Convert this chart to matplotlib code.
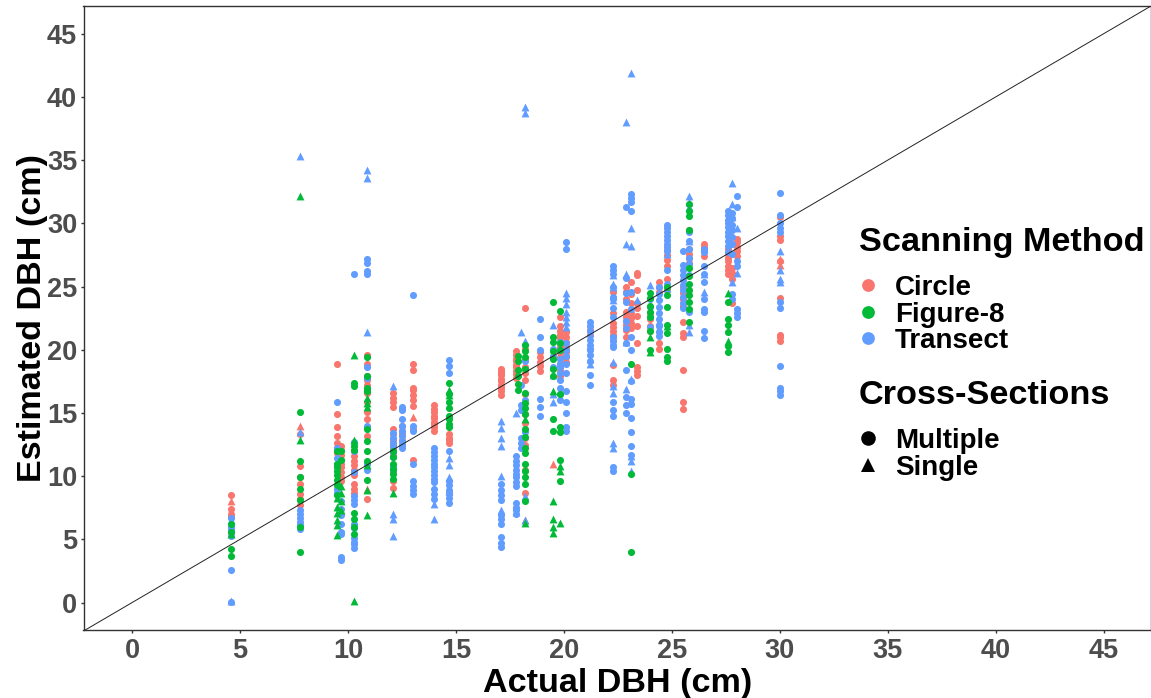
import matplotlib
matplotlib.use("Agg")
import matplotlib.pyplot as plt
from matplotlib.lines import Line2D

plt.rcParams['font.family'] = ['Liberation Sans', 'DejaVu Sans']
plt.rcParams['font.weight'] = 'bold'

# --------------------- Data -----------------------------------------------
# each dict: actual DBH -> estimated DBH values

circle_multi = {
    4.6: [8.5, 7.4, 7.0, 6.8],
    7.8: [13.3, 10.8, 9.9, 9.4, 8.6, 8.2, 7.7],
    9.5: [18.9, 14.95, 13.9, 13.2, 12.6, 12.2, 11.8],
    9.7: [12.4, 12.1, 11.7, 11.3, 11.0, 10.7, 10.3, 9.9, 9.6],
    10.3: [12.0, 11.6, 11.2, 10.9, 10.5, 10.1, 9.4, 9.0, 8.7],
    10.9: [19.6, 18.85, 17.9, 17.6, 17.2, 16.9, 16.6, 15.9, 15.1, 14.5, 13.9, 13.2, 8.2],
    12.1: [16.6, 16.2, 15.9, 15.5, 13.7, 13.3, 12.9, 12.5, 12.1, 11.7, 10.9, 10.3, 9.6, 9.1],
    12.5: [14.0, 13.6, 13.3, 12.9, 12.5],
    13.0: [18.85, 18.4, 17.0, 16.8, 16.4, 16.0, 15.55, 13.7, 11.3],
    14.0: [15.6, 15.3, 15.1, 14.8, 14.6, 14.3, 14.1, 13.9, 13.6],
    14.7: [13.3, 13.0, 12.9, 12.6],
    17.1: [18.5, 18.3, 18.2, 18.0, 17.7, 17.5, 17.2, 17.0, 16.7, 16.4],
    17.8: [19.9, 19.6, 19.3, 19.1, 18.8, 18.6, 18.3, 18.1, 17.8],
    18.2: [23.3, 20.1, 19.3, 18.6, 18.2, 17.6, 16.5, 14.9, 14.2, 13.0, 12.5, 10.5, 8.7],
    18.9: [19.8, 19.4, 19.0, 18.7, 18.3],
    19.8: [22.6, 21.9, 21.5, 21.2, 20.9, 20.5, 20.2, 19.8, 19.4, 18.9, 18.4, 17.9],
    20.1: [21.4, 21.0, 20.6, 20.2, 19.8, 19.4, 19.0],
    21.2: [21.6, 21.2],
    22.3: [24.6, 22.9, 22.1, 21.8, 21.5, 21.2, 20.8, 18.8, 17.6, 17.2],
    22.9: [25.0, 24.6, 24.0, 23.0, 22.6, 22.3, 22.0, 21.6, 21.0],
    23.1: [25.4, 24.4, 23.7, 22.9, 22.5, 22.1, 21.7],
    23.4: [26.1, 25.9, 24.7, 23.7, 23.3, 22.7, 21.9, 20.5, 18.6, 18.3, 18.0],
    24.0: [22.9, 22.4, 21.9, 21.5],
    24.4: [25.4, 25.0, 24.6, 20.5, 20.1],
    24.8: [27.9, 27.5, 27.1, 26.6, 25.6, 24.7],
    25.5: [25.0, 24.5, 24.0, 23.5, 22.2, 21.3, 21.0, 18.4, 15.9, 15.3],
    25.8: [29.5, 28.0, 27.6, 27.3, 26.9],
    26.5: [28.4, 28.1, 27.8, 27.4],
    27.6: [28.0, 27.6, 27.3, 27.0, 26.6, 26.3, 26.0],
    27.8: [26.5, 26.1, 25.6, 23.7],
    28.0: [28.8, 28.5, 28.1, 27.8, 27.4],
    30.0: [30.5, 29.0, 28.7, 27.0, 24.1, 21.2, 21.0, 20.7],
}
circle_single = {
    4.6: [8.0],
    7.8: [13.95],
    10.9: [9.0],
    13.0: [14.7],
    14.7: [9.0],
    18.2: [6.5],
    19.5: [11.0],
    30.0: [27.2, 26.7],
}
figure8_multi = {
    4.6: [6.2, 5.6, 4.2, 3.7],
    7.8: [15.07, 11.2, 9.9, 9.0, 8.1, 6.0, 4.0],
    9.5: [12.0, 11.0, 10.7, 10.4, 10.1, 9.7, 9.3, 8.5],
    9.7: [12.0, 11.3],
    10.3: [17.35, 17.1, 12.4, 12.1, 7.1, 6.6, 6.0, 5.4],
    10.9: [19.4, 17.9, 17.0, 16.7, 13.7, 12.8, 12.0, 11.2, 9.7],
    12.1: [12.0, 11.5, 11.0, 10.6, 10.2, 9.8],
    14.7: [17.4, 16.5, 15.9, 15.4, 14.8, 14.5, 14.1, 13.9],
    17.9: [19.5, 19.1, 18.4, 17.9, 17.3, 16.8],
    18.2: [20.4, 19.9, 19.4, 18.5, 16.6, 15.8, 15.4, 14.9, 13.7, 13.1, 12.2, 11.8, 11.0, 10.4, 9.9, 9.4, 8.0],
    19.5: [23.8, 21.0, 20.6, 19.9, 19.3, 18.5, 17.9, 14.5, 13.6],
    19.8: [23.1, 20.5, 20.0, 16.5, 13.9, 13.5, 11.3, 9.6],
    23.1: [18.9, 10.2, 4.0],
    24.0: [24.5, 24.1, 23.5, 23.0, 22.6, 21.5, 20.0],
    24.8: [25.0, 24.3, 23.4, 22.0, 21.3, 20.1, 19.4, 19.1],
    25.8: [31.5, 31.0, 30.6, 29.5, 26.5, 25.8, 25.2, 24.7, 24.3, 23.8, 23.2, 22.2],
    27.6: [23.8, 22.4, 22.0, 21.4, 20.3, 19.8],
}
figure8_single = {
    4.6: [5.4],
    7.8: [32.2, 12.9],
    9.5: [8.3, 7.6, 7.1, 6.5, 6.1, 5.35],
    9.7: [9.2, 8.7, 8.0, 7.3],
    10.3: [19.55, 12.85, 0.1],
    10.9: [16.9, 16.2, 15.8, 15.5, 10.9, 8.9, 6.9],
    12.1: [8.7],
    14.7: [16.8, 16.4],
    18.2: [14.5, 6.3],
    19.5: [16.7, 8.0, 6.6, 6.0, 5.5],
    19.8: [10.8, 10.4, 6.3],
    24.0: [21.0, 19.8],
    24.8: [21.9],
    27.6: [24.5, 20.7],
}
transect_multi = {
    4.6: [6.7, 6.0, 5.8, 5.6, 5.3, 2.6, 0.05],
    7.8: [7.3, 7.0, 6.7, 6.4, 6.1, 5.8],
    9.5: [15.9, 12.2, 11.4, 11.0, 9.0, 8.7],
    9.7: [8.0, 7.4, 6.9, 6.2, 5.6, 5.4, 3.6, 3.35],
    10.3: [26.0, 12.7, 12.0, 10.3, 8.4, 8.1, 7.8, 6.2, 5.9, 5.1, 4.8, 4.6, 4.3],
    10.9: [27.2, 26.9, 26.2, 26.0, 18.6, 17.8, 14.0, 11.0, 10.5],
    12.1: [13.4, 13.0, 12.6, 12.3, 11.9, 11.5, 10.8, 10.5],
    12.5: [15.5, 15.3, 15.2, 14.5, 14.0, 13.6, 13.2, 12.8, 12.5, 12.2],
    13.0: [24.3, 14.0, 13.6, 11.0, 9.6, 9.2, 8.9, 8.6],
    14.0: [12.2, 11.9, 11.6, 11.3, 11.0, 10.7, 10.4, 10.1, 9.8, 9.5, 9.0, 8.6, 8.2],
    14.7: [19.2, 18.7, 18.2, 12.0, 9.6, 9.3, 8.9, 8.6, 8.3, 7.9],
    17.1: [9.4, 8.9, 8.5, 8.1, 6.9, 6.6, 6.2, 5.2, 4.7, 4.4],
    17.8: [11.6, 11.2, 10.9, 10.5, 10.2, 9.9, 9.5, 9.2, 7.9, 7.5, 7.3, 7.0],
    18.0: [17.2, 15.6, 15.2, 13.0, 12.6, 12.2],
    18.2: [19.1, 16.0, 13.5],
    18.9: [22.4, 21.0, 20.0, 16.1, 15.5, 14.8],
    19.5: [20.1, 19.5, 18.6],
    19.8: [20.6, 20.0, 19.3, 18.9, 18.6, 18.2, 17.6, 17.0, 16.5, 16.0],
    20.1: [28.5, 28.0, 20.5, 20.0, 19.5, 18.9, 18.2, 16.7, 15.9, 15.0, 13.9, 13.6],
    21.2: [22.2, 21.9, 21.5, 20.8, 20.4, 20.0, 19.6, 19.1, 18.0, 17.2],
    22.3: [26.6, 26.3, 26.0, 25.0, 24.2, 24.0, 23.3, 22.6, 21.0, 20.7, 20.4, 20.2, 15.9, 15.2, 14.8, 10.7, 10.4],
    22.9: [31.3, 25.7, 24.5, 23.8, 22.3, 21.7, 20.5, 18.4, 16.3, 15.6, 15.0],
    23.1: [32.3, 32.0, 31.7, 31.0, 24.6, 23.2, 21.0, 20.0, 17.5, 16.1, 15.7, 14.6, 13.5, 12.4, 11.7],
    24.0: [24.0, 23.4, 22.6, 21.8],
    24.4: [25.0, 24.4, 23.9, 23.4, 22.9, 22.4, 21.9, 21.4, 21.1],
    24.8: [29.9, 29.6, 29.3, 29.0, 28.7, 28.4, 28.1, 27.8, 26.3, 25.2],
    25.5: [27.8, 26.7, 26.3, 25.9, 25.5, 25.1, 24.7, 24.2, 23.7, 23.3],
    25.8: [29.3, 28.6, 28.0, 27.3, 26.8, 25.9, 23.0],
    26.5: [28.0, 27.7, 26.6, 26.0, 25.4, 24.0, 23.2, 23.0, 21.5, 20.9],
    27.6: [31.0, 30.7, 30.3, 30.0, 29.7, 29.3, 29.0, 28.6, 28.2, 27.7],
    27.8: [30.8, 30.4, 29.9, 29.5, 28.9, 28.4, 27.6, 24.4, 24.0],
    28.0: [32.2, 31.3, 27.0, 26.6, 23.2, 22.9, 22.6],
    30.0: [32.4, 30.7, 30.0, 29.6, 29.3, 23.8, 23.3, 18.7, 17.0, 16.7, 16.4],
}
transect_single = {
    4.6: [6.5, 0.1],
    7.8: [35.3, 13.5],
    10.9: [34.2, 33.6, 21.4],
    12.1: [17.1, 7.0, 6.6, 5.3],
    14.0: [7.8, 6.6],
    14.7: [11.4, 10.9, 9.9, 8.8],
    17.1: [14.4, 13.8, 13.0, 12.4, 10.0, 7.3],
    17.8: [15.0, 7.8, 7.2],
    18.0: [21.4],
    18.2: [39.2, 38.7, 20.7, 8.4, 6.5],
    19.5: [22.0, 18.0, 16.5, 15.9],
    20.1: [24.5, 24.1, 23.6, 23.0, 22.6, 22.2, 21.8],
    21.2: [21.3, 20.4, 19.3, 18.9],
    22.3: [25.9, 25.2, 25.0, 23.9, 19.0, 17.1, 16.6, 12.6, 12.2],
    22.9: [38.0, 28.4, 26.0, 20.6, 16.9],
    23.1: [41.9, 29.6, 28.2, 17.7, 11.6, 11.2, 10.4],
    23.4: [23.9],
    24.0: [25.1],
    24.4: [22.3, 21.7],
    24.8: [27.6, 24.9],
    25.8: [32.2, 31.7, 31.3, 28.6, 22.0, 21.4],
    26.5: [26.0, 24.6],
    27.8: [33.2, 31.5, 30.5, 25.4],
    28.0: [29.6, 26.1],
    30.0: [27.8, 26.3, 25.6, 25.4],
}

tick_vals = [0, 5, 10, 15, 20, 25, 30, 35, 40, 45]
method_names = ["Circle", "Figure-8", "Transect"]
section_names = ["Multiple", "Single"]
colors = ["#F8766D", "#00BA38", "#619CFF"]

# --------------------- Plot ------------------------

def draw(ax, series, color, marker, size, order):
    xs, ys = [], []
    for x, vals in series.items():
        for v in vals:
            xs.append(x)
            ys.append(v)
    ax.scatter(xs, ys, s=size, c=color, marker=marker, linewidths=0, zorder=order)

fig = plt.figure(figsize=(11.51, 6.98), dpi=100)
ax = fig.add_axes([83.5/1151, 1 - 630/698, (1151 - 83.5)/1151, (630 - 6)/698])

draw(ax, circle_multi, colors[0], "o", 26, 2)
draw(ax, circle_single, colors[0], "^", 32, 2)
draw(ax, transect_multi, colors[2], "o", 26, 3)
draw(ax, transect_single, colors[2], "^", 32, 3)
draw(ax, figure8_multi, colors[1], "o", 26, 4)
draw(ax, figure8_single, colors[1], "^", 32, 4)

ax.axline((0, 0), slope=1, color="#222222", lw=0.7, zorder=5)

ax.set_xlim(-2.25, 47.2)
ax.set_ylim(-2.17, 47.2)
ax.set_xticks(tick_vals)
ax.set_yticks(tick_vals)
ax.tick_params(labelsize=19.5, labelcolor="#4D4D4D", color="#333333", length=2.4, width=1, pad=2.2)
ax.tick_params(axis='x', pad=3.4)
for lab in ax.get_xticklabels() + ax.get_yticklabels():
    lab.set_fontweight('bold')
for s in ax.spines.values():
    s.set_color("#333333")
    s.set_linewidth(1)
ax.set_xlabel("Actual DBH (cm)", fontsize=24.6, fontweight='bold', labelpad=3)
ax.set_ylabel("Estimated DBH (cm)", fontsize=24.6, fontweight='bold', labelpad=-0.5)

# legends
h1 = [Line2D([], [], ls="", marker="o", ms=9.2, mew=0, color=c) for c in colors]
h2 = [Line2D([], [], ls="", marker=m, ms=10.5, mew=0, color="black") for m in ["o", "^"]]
opts = dict(frameon=False, fontsize=20, labelspacing=0.02, handlelength=0.65, handletextpad=0.65,
            borderpad=0, borderaxespad=0, loc="upper left", bbox_transform=fig.transFigure)
fig.text(859/1151, 1 - 242/698, "Scanning Method", fontsize=24.7, fontweight='bold', va='center')
leg1 = ax.legend(h1, method_names, bbox_to_anchor=(859/1151, 1 - 275/698), **opts)
ax.add_artist(leg1)
fig.text(859/1151, 1 - 395.5/698, "Cross-Sections", fontsize=24.7, fontweight='bold', va='center')
ax.legend(h2, section_names, bbox_to_anchor=(859/1151, 1 - 428/698), **opts)

fig.savefig("out.png", dpi=100)
